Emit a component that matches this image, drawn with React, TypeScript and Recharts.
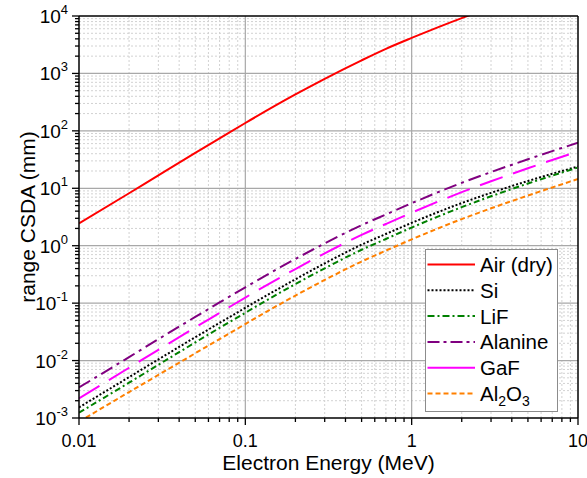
import React from 'react';
import { LineChart, Line, XAxis, YAxis, ReferenceLine, Legend } from 'recharts';

const energy = [0.01, 0.02, 0.03, 0.05, 0.07, 0.1, 0.2, 0.3, 0.5, 0.7, 1, 2, 3, 5, 7, 10];
const airDry = [2.45, 8.2, 16.8, 41.3, 74, 137, 430, 805, 1690, 2680, 4150, 9200, 14000, 23000, 32000, 45000];
const si = [1.53e-3, 5.15e-3, 1.047e-2, 2.55e-2, 4.52e-2, 0.083, 0.26, 0.493, 1.042, 1.6, 2.5, 5.53, 8.33, 13.4, 17.9, 23.9];
const lif = [1.24e-3, 4.12e-3, 8.45e-3, 2.07e-2, 3.71e-2, 0.068, 0.215, 0.404, 0.85, 1.31, 2.07, 4.7, 7.25, 12.1, 16.6, 23.0];
const alanine = [3.4e-3, 1.149e-2, 2.36e-2, 5.75e-2, 0.1027, 0.189, 0.588, 1.095, 2.278, 3.5, 5.5, 12.43, 19.15, 32.0, 44.4, 62.2];
const gaf = [2.2e-3, 7.5e-3, 1.54e-2, 3.78e-2, 6.76e-2, 0.1252, 0.393, 0.737, 1.545, 2.39, 3.76, 8.56, 13.25, 22.3, 31.1, 43.5];
const al2o3 = [8.6e-4, 2.83e-3, 5.63e-3, 1.34e-2, 2.36e-2, 0.0433, 0.1355, 0.2535, 0.53, 0.82, 1.29, 2.91, 4.48, 7.47, 10.35, 14.5];

const xMajor = [0.01, 0.1, 1, 10];
const yMajor = [1e-3, 1e-2, 1e-1, 1, 10, 100, 1000, 10000];
const xLabels = ['0.01', '0.1', '1', '10'];
const multipliers = [2, 3, 4, 5, 6, 7, 8, 9];

const xMinor: number[] = [];
xMajor.slice(0, -1).forEach((d) => multipliers.forEach((m) => xMinor.push(+(d * m).toPrecision(6))));
const yMinor: number[] = [];
yMajor.slice(0, -1).forEach((d) => multipliers.forEach((m) => yMinor.push(+(d * m).toPrecision(6))));

const xTicks = [...xMajor, ...xMinor].sort((a, b) => a - b);
const yTicks = [...yMajor, ...yMinor].sort((a, b) => a - b);

const series = [
  { key: 'air', name: 'Air (dry)', values: airDry, color: '#ff0000', dash: undefined as string | undefined, legendDash: undefined as string | undefined },
  { key: 'si', name: 'Si', values: si, color: '#000000', dash: '2 2', legendDash: '2 2' },
  { key: 'lif', name: 'LiF', values: lif, color: '#008000', dash: '6 3 2 3', legendDash: '7 3 2 3' },
  { key: 'alanine', name: 'Alanine', values: alanine, color: '#800080', dash: '13 5 3 5', legendDash: '12 4 3 4' },
  { key: 'gaf', name: 'GaF', values: gaf, color: '#ff00ff', dash: '24 11', legendDash: undefined },
  { key: 'al2o3', name: 'Al2O3', values: al2o3, color: '#ff8000', dash: '5 3', legendDash: '5 3' },
];

const data = energy.map((e, i) => {
  const row: Record<string, number> = { e };
  series.forEach((s) => {
    row[s.key] = s.values[i];
  });
  return row;
});

const FONT = '"Liberation Sans", Arial, sans-serif';

const isMajor = (v: number) => Math.abs(Math.log10(v) - Math.round(Math.log10(v))) < 1e-6;

const XTick = (props: any) => {
  const { x, y, payload } = props;
  const v = payload.value;
  const major = isMajor(v);
  const idx = xMajor.findIndex((m) => Math.abs(m - v) < 1e-9);
  return (
    <g>
      <line x1={x} x2={x} y1={y} y2={y + (major ? 7 : 4)} stroke="#000" strokeWidth={1.3} />
      {major && idx >= 0 && (
        <text x={x} y={y + 29} textAnchor="middle" fontSize={18} fontFamily={FONT} fill="#000">
          {xLabels[idx]}
        </text>
      )}
    </g>
  );
};

const YTick = (props: any) => {
  const { x, y, payload } = props;
  const v = payload.value;
  const major = isMajor(v);
  const exp = Math.round(Math.log10(v));
  return (
    <g>
      <line x1={x} x2={x - (major ? 7 : 4)} y1={y} y2={y} stroke="#000" strokeWidth={1.3} />
      {major && (
        <text x={x - 11} y={y + 7} textAnchor="end" fontSize={19} fontFamily={FONT} fill="#000">
          10
          <tspan fontSize={13} dy={-9}>
            {exp < 0 ? `-${-exp}` : `${exp}`}
          </tspan>
        </text>
      )}
    </g>
  );
};

const LegendBox = () => {
  const rowY = (i: number) => 14.5 + i * 25.8;
  return (
    <div
      style={{
        width: 133,
        height: 163,
        boxSizing: 'border-box',
        border: '1px solid #8c8c8c',
        background: '#fff',
        position: 'relative',
      }}
    >
      <svg width={131} height={161} style={{ position: 'absolute', left: 0, top: 0 }}>
        {series.map((s, i) => (
          <g key={s.key}>
            <line
              x1={1.5}
              x2={49}
              y1={rowY(i)}
              y2={rowY(i)}
              stroke={s.color}
              strokeWidth={2}
              strokeDasharray={s.legendDash}
            />
            <text x={54} y={rowY(i) + 7.5} fontSize={20.5} fontFamily={FONT} fill="#000">
              {s.key === 'al2o3' ? (
                <>
                  Al
                  <tspan fontSize={14} dy={5}>2</tspan>
                  <tspan dy={-5}>O</tspan>
                  <tspan fontSize={14} dy={5}>3</tspan>
                </>
              ) : (
                s.name
              )}
            </text>
          </g>
        ))}
      </svg>
    </div>
  );
};

export default function App() {
  return (
    <div
      style={{
        position: 'absolute',
        left: 0,
        top: 0,
        width: 587,
        height: 478,
        background: '#fff',
        fontFamily: FONT,
      }}
    >
      <LineChart width={587} height={478} data={data} margin={{ top: 16, right: 9, bottom: 0, left: 0 }}>
        {xMinor.map((v) => (
          <ReferenceLine key={`xm${v}`} x={v} stroke="#d2d2d2" strokeDasharray="2 2" strokeWidth={1} />
        ))}
        {yMinor.map((v) => (
          <ReferenceLine key={`ym${v}`} y={v} stroke="#d2d2d2" strokeDasharray="2 2" strokeWidth={1} />
        ))}
        {xMajor.slice(1, -1).map((v) => (
          <ReferenceLine key={`xM${v}`} x={v} stroke="#a8a8a8" strokeWidth={1.2} />
        ))}
        {yMajor.slice(1, -1).map((v) => (
          <ReferenceLine key={`yM${v}`} y={v} stroke="#a8a8a8" strokeWidth={1.2} />
        ))}
        <XAxis
          dataKey="e"
          type="number"
          scale="log"
          domain={[0.01, 10]}
          allowDataOverflow
          ticks={xTicks}
          interval={0}
          tickSize={0}
          tickMargin={0}
          tickLine={false}
          tick={<XTick />}
          height={60}
          axisLine={{ stroke: '#000', strokeWidth: 1.5 }}
          label={{
            content: (p: any) => {
              const vb = p.viewBox;
              return (
                <text x={vb.x + vb.width / 2} y={vb.y + 52} textAnchor="middle" fontSize={21} fontFamily={FONT} fill="#000">
                  Electron Energy (MeV)
                </text>
              );
            },
          }}
        />
        <YAxis
          type="number"
          scale="log"
          domain={[1e-3, 1e4]}
          allowDataOverflow
          ticks={yTicks}
          interval={0}
          tickSize={0}
          tickMargin={0}
          tickLine={false}
          tick={<YTick />}
          width={79}
          axisLine={{ stroke: '#000', strokeWidth: 1.5 }}
          label={{
            content: (p: any) => {
              const vb = p.viewBox;
              const cx = vb.x + 35;
              const cy = vb.y + vb.height / 2;
              return (
                <text x={cx} y={cy} transform={`rotate(-90, ${cx}, ${cy})`} textAnchor="middle" fontSize={21} fontFamily={FONT} fill="#000">
                  range CSDA (mm)
                </text>
              );
            },
          }}
        />
        {series.map((s) => (
          <Line
            key={s.key}
            dataKey={s.key}
            name={s.name}
            type="monotone"
            stroke={s.color}
            strokeWidth={2}
            strokeDasharray={s.dash}
            dot={false}
            activeDot={false}
            isAnimationActive={false}
          />
        ))}
        <ReferenceLine y={1e4} stroke="#000" strokeWidth={1.5} />
        <ReferenceLine x={10} stroke="#000" strokeWidth={1.5} />
        <Legend
          layout="horizontal"
          align="center"
          verticalAlign="middle"
          content={() => <LegendBox />}
          wrapperStyle={{ position: 'absolute', left: 425, top: 249, width: 133, height: 163, margin: 0 }}
        />
      </LineChart>
    </div>
  );
}
